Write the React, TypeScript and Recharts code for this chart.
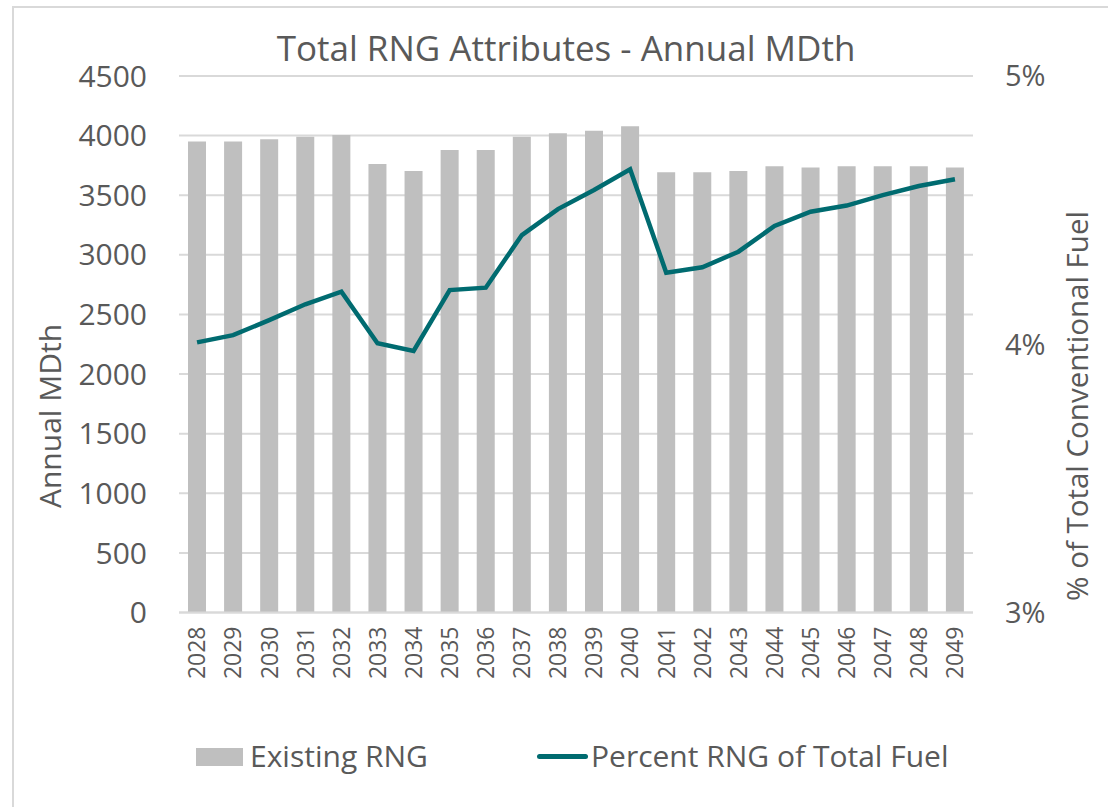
import React from 'react';
import { ComposedChart, Bar, Line, XAxis, YAxis, CartesianGrid, Legend } from 'recharts';

const years = ['2028', '2029', '2030', '2031', '2032', '2033', '2034', '2035', '2036', '2037', '2038',
  '2039', '2040', '2041', '2042', '2043', '2044', '2045', '2046', '2047', '2048', '2049'];
const existingRng = [3950, 3950, 3970, 3990, 4005, 3762, 3704, 3880, 3880, 3990, 4020,
  4040, 4078, 3693, 3693, 3704, 3743, 3732, 3743, 3743, 3743, 3732];
const percentRng = [4.007, 4.034, 4.09, 4.149, 4.196, 4.004, 3.975, 4.202, 4.211, 4.407, 4.504,
  4.575, 4.652, 4.267, 4.287, 4.345, 4.441, 4.494, 4.517, 4.556, 4.59, 4.615];
const leftTicks = [0, 500, 1000, 1500, 2000, 2500, 3000, 3500, 4000, 4500];
const rightTicks = [3, 4, 5];

const data = years.map((year, i) => ({ year, existing: existingRng[i], percent: percentRng[i] }));

const FONT = '"Open Sans", sans-serif';
const TEXT = '#595959';
const GRID = '#D9D9D9';
const BAR = '#BFBFBF';
const LINE = '#006B70';

const YearTick = (props: any) => {
  const { x, y, payload } = props;
  return (
    <g transform={`translate(${x},${y})`}>
      <text transform="rotate(-90)" x={-8} y={0} dy="0.36em" textAnchor="end"
        fill={TEXT} fontSize={23} fontFamily={FONT}>
        {payload.value}
      </text>
    </g>
  );
};

const LegendContent = () => (
  <div style={{ position: 'relative', height: 60, fontFamily: FONT, fontSize: 30, color: TEXT }}>
    <div style={{ position: 'absolute', left: 196, top: 21, width: 47, height: 18, background: BAR }} />
    <div style={{ position: 'absolute', left: 250, top: 8, lineHeight: '42px' }}>Existing RNG</div>
    <div style={{ position: 'absolute', left: 537, top: 27, width: 51, height: 5, borderRadius: 3, background: LINE }} />
    <div style={{ position: 'absolute', left: 591, top: 8, lineHeight: '42px' }}>Percent RNG of Total Fuel</div>
  </div>
);

const App: React.FC = () => {
  return (
    <div style={{ position: 'absolute', left: 0, top: 0, width: 1108, height: 807, background: '#fff', overflow: 'hidden' }}>
      <div style={{ position: 'absolute', left: 12, top: 6, width: 1200, height: 900,
        borderLeft: `2px solid ${GRID}`, borderTop: `2px solid ${GRID}` }} />
      <ComposedChart width={1108} height={807} data={data}
        margin={{ top: 76, right: 0, bottom: 54.5, left: 0 }} barSize={18}
        style={{ position: 'absolute', left: 0, top: 0 }}>
        <CartesianGrid vertical={false} stroke={GRID} strokeWidth={2} yAxisId="left" />
        <XAxis dataKey="year" height={80} tickLine={false} tickMargin={0}
          axisLine={{ stroke: GRID, strokeWidth: 2 }} tick={<YearTick />} interval={0} />
        <YAxis yAxisId="left" orientation="left" width={179} domain={[0, 4500]} ticks={leftTicks}
          axisLine={false} tickLine={false} tickSize={0} tickMargin={32}
          tick={{ fill: TEXT, fontSize: 30, fontFamily: FONT }}
          label={() => (
            <text x={50} y={416} transform="rotate(-90 50 416)" textAnchor="middle" dy="0.36em"
              fill={TEXT} fontSize={30} fontFamily={FONT}>Annual MDth</text>
          )} />
        <YAxis yAxisId="right" orientation="right" width={135} domain={[3, 5]} ticks={rightTicks}
          axisLine={false} tickLine={false} tickSize={0} tickMargin={32}
          tickFormatter={(v: number) => `${v}%`}
          tick={{ fill: TEXT, fontSize: 29, fontFamily: FONT }}
          label={() => (
            <text x={1077} y={406} transform="rotate(-90 1077 406)" textAnchor="middle" dy="0.36em"
              fill={TEXT} fontSize={29.5} fontFamily={FONT}>% of Total Conventional Fuel</text>
          )} />
        <Legend verticalAlign="bottom" height={60} wrapperStyle={{ bottom: 20, left: 0 }}
          content={<LegendContent />} />
        <Bar yAxisId="left" dataKey="existing" name="Existing RNG" fill={BAR} isAnimationActive={false} />
        <Line yAxisId="right" dataKey="percent" name="Percent RNG of Total Fuel" type="linear"
          stroke={LINE} strokeWidth={4.5} dot={false} isAnimationActive={false} />
      </ComposedChart>
      <div style={{ position: 'absolute', left: 0, top: 24, width: 1132, textAlign: 'center',
        fontFamily: FONT, fontSize: 35, color: TEXT, lineHeight: '48px' }}>
        Total RNG Attributes - Annual MDth
      </div>
    </div>
  );
};

export default App;
